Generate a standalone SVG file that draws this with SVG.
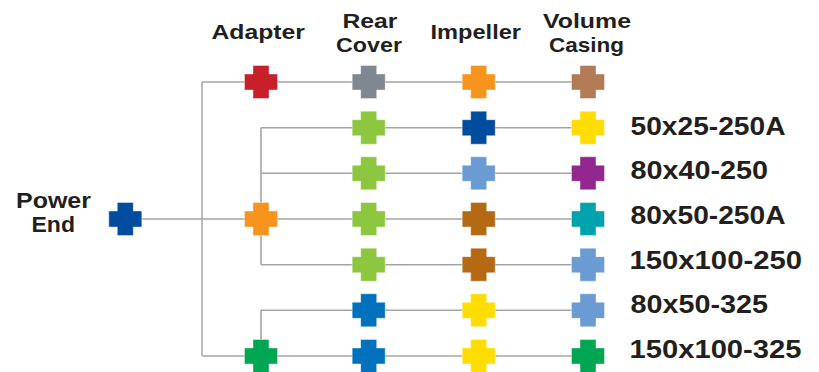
<svg xmlns="http://www.w3.org/2000/svg" xmlns:xlink="http://www.w3.org/1999/xlink" width="819" height="372" viewBox="0 0 819 372">
<style>
.t{font-family:"Liberation Sans",Arial,sans-serif;font-weight:bold;fill:#231f20}
.h{font-size:21px}
.p{font-size:22px}
.r{font-size:25px}
.ln{stroke:#a5a5a5;stroke-width:1.6;fill:none}
.lv{stroke:#bcbcbc;stroke-width:2;fill:none}
.x{stroke:#ffffff;stroke-opacity:.4;stroke-width:1}
</style>
<defs>
<path id="cross" d="M-8,-16.5H8V-8H16.5V8H8V16.5H-8V8H-16.5V-8H-8Z"/>
</defs>
<rect width="819" height="372" fill="#ffffff"/>
<g id="connectors">
<path class="lv" d="M202,82V356"/>
<path class="ln" d="M202,82H588"/>
<path class="ln" d="M261,127.7V264.7"/>
<path class="ln" d="M261,127.7H588"/>
<path class="ln" d="M261,173.3H588"/>
<path class="ln" d="M142,219H588"/>
<path class="ln" d="M261,264.7H588"/>
<path class="ln" d="M261,310.3V356"/>
<path class="ln" d="M261,310.3H588"/>
<path class="lv" d="M202,356H588"/>
</g>
<g id="headers">
<text class="t h" x="211.5" y="39" textLength="93.5" lengthAdjust="spacingAndGlyphs">Adapter</text>
<text class="t h" x="342.5" y="28.3" textLength="55" lengthAdjust="spacingAndGlyphs">Rear</text>
<text class="t h" x="336" y="52.3" textLength="66" lengthAdjust="spacingAndGlyphs">Cover</text>
<text class="t h" x="430.5" y="39" textLength="90.5" lengthAdjust="spacingAndGlyphs">Impeller</text>
<text class="t h" x="543" y="28.3" textLength="88" lengthAdjust="spacingAndGlyphs">Volume</text>
<text class="t h" x="549" y="52.3" textLength="75" lengthAdjust="spacingAndGlyphs">Casing</text>
</g>
<g id="power-end">
<text class="t p" x="16" y="208.3" textLength="75" lengthAdjust="spacingAndGlyphs">Power</text>
<text class="t p" x="31.5" y="232.3" textLength="43.5" lengthAdjust="spacingAndGlyphs">End</text>
<use xlink:href="#cross" class="x" x="125.3" y="219" fill="#004c9e"/>
</g>
<g id="adapter-red"><use xlink:href="#cross" class="x" x="261" y="82" fill="#c8202a"/></g>
<g id="adapter-orange"><use xlink:href="#cross" class="x" x="261" y="219" fill="#f7941d"/></g>
<g id="adapter-green"><use xlink:href="#cross" class="x" x="261" y="356" fill="#00a651"/></g>
<g id="row1">
<use xlink:href="#cross" class="x" x="368.7" y="82" fill="#7f8890"/>
<use xlink:href="#cross" class="x" x="478.7" y="82" fill="#f7941d"/>
<use xlink:href="#cross" class="x" x="588" y="82" fill="#b27b56"/>
</g>
<g id="row2">
<use xlink:href="#cross" class="x" x="368.7" y="127.7" fill="#8dc63f"/>
<use xlink:href="#cross" class="x" x="478.7" y="127.7" fill="#004c9e"/>
<use xlink:href="#cross" class="x" x="588" y="127.7" fill="#ffdd00"/>
<text class="t r" x="630.5" y="135" textLength="155" lengthAdjust="spacingAndGlyphs">50x25-250A</text>
</g>
<g id="row3">
<use xlink:href="#cross" class="x" x="368.7" y="173.3" fill="#8dc63f"/>
<use xlink:href="#cross" class="x" x="478.7" y="173.3" fill="#6a9bd3"/>
<use xlink:href="#cross" class="x" x="588" y="173.3" fill="#92278f"/>
<text class="t r" x="630.5" y="179.3" textLength="137.5" lengthAdjust="spacingAndGlyphs">80x40-250</text>
</g>
<g id="row4">
<use xlink:href="#cross" class="x" x="368.7" y="219" fill="#8dc63f"/>
<use xlink:href="#cross" class="x" x="478.7" y="219" fill="#b36a13"/>
<use xlink:href="#cross" class="x" x="588" y="219" fill="#00a3ad"/>
<text class="t r" x="630.5" y="224" textLength="155" lengthAdjust="spacingAndGlyphs">80x50-250A</text>
</g>
<g id="row5">
<use xlink:href="#cross" class="x" x="368.7" y="264.7" fill="#8dc63f"/>
<use xlink:href="#cross" class="x" x="478.7" y="264.7" fill="#b36a13"/>
<use xlink:href="#cross" class="x" x="588" y="264.7" fill="#6a9bd3"/>
<text class="t r" x="629.5" y="269.3" textLength="172.5" lengthAdjust="spacingAndGlyphs">150x100-250</text>
</g>
<g id="row6">
<use xlink:href="#cross" class="x" x="368.7" y="310.3" fill="#0071bc"/>
<use xlink:href="#cross" class="x" x="478.7" y="310.3" fill="#ffdd00"/>
<use xlink:href="#cross" class="x" x="588" y="310.3" fill="#6a9bd3"/>
<text class="t r" x="630.5" y="313.3" textLength="137.5" lengthAdjust="spacingAndGlyphs">80x50-325</text>
</g>
<g id="row7">
<use xlink:href="#cross" class="x" x="368.7" y="356" fill="#0071bc"/>
<use xlink:href="#cross" class="x" x="478.7" y="356" fill="#ffdd00"/>
<use xlink:href="#cross" class="x" x="588" y="356" fill="#00a651"/>
<text class="t r" x="629.5" y="358.3" textLength="172" lengthAdjust="spacingAndGlyphs">150x100-325</text>
</g>
</svg>
